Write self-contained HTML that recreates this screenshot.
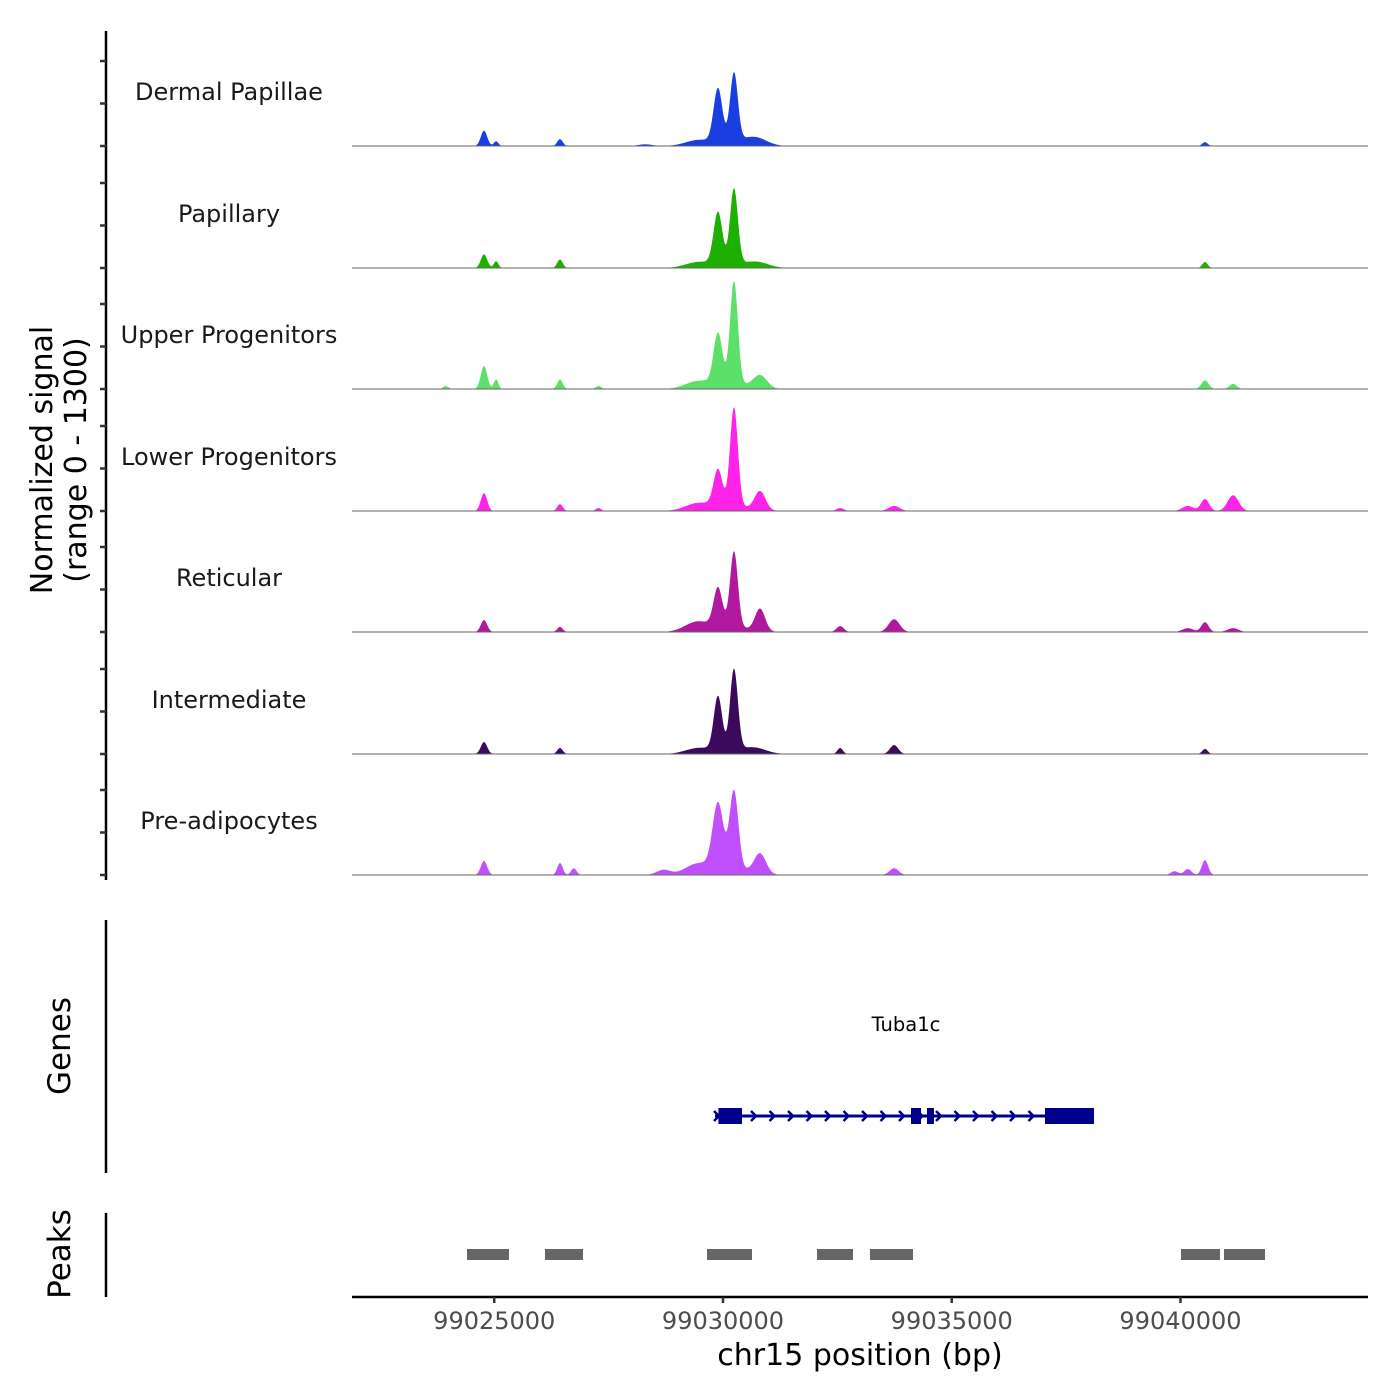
<!DOCTYPE html>
<html><head><meta charset="utf-8">
<style>
html,body{margin:0;padding:0;background:#fff;}
svg{display:block;font-family:"DejaVu Sans","Liberation Sans",sans-serif;}
</style></head>
<body>
<svg id="chart" width="1400" height="1400" viewBox="0 0 1400 1400"></svg>
<script>
// ---- data ----
const trackNames = ["Dermal Papillae","Papillary","Upper Progenitors","Lower Progenitors","Reticular","Intermediate","Pre-adipocytes"];
const trackColors = ["#1a3fe0","#1db000","#5ce06a","#ff22e8","#b0189f","#3b0a5c","#c050ff"];
// peaks per track: positions (bp), heights (signal units), widths (sigma bp)
const peakPos = [
 [99029890,99030240,99024776,99025040,99026437,99030700,99029400,99040535,99028300,99030000],
 [99029890,99030240,99024776,99025040,99026437,99030750,99029400,99040535,99030000],
 [99029890,99030240,99024776,99025040,99026437,99030810,99029400,99040535,99041150,99023940,99027280,99030000],
 [99029890,99030240,99024776,99026437,99030810,99029400,99040535,99041150,99040160,99033740,99032560,99027280,99030000],
 [99029890,99030240,99030810,99029400,99024776,99026437,99033740,99032560,99040535,99041150,99040160,99030000],
 [99029890,99030240,99024776,99026437,99030700,99029400,99033740,99032560,99040535,99030000],
 [99029890,99030240,99030810,99029400,99024776,99026437,99026740,99033740,99040535,99040160,99039870,99028700,99030000]
];
const peakHeights = [
 [620,800,180,55,80,90,45,45,20,60],
 [600,880,160,80,100,60,45,70,60],
 [580,1200,270,110,110,150,60,100,60,35,35,80],
 [410,1150,210,80,220,60,140,185,60,60,35,35,80],
 [440,880,260,90,140,60,150,70,115,45,45,80],
 [620,940,140,70,60,45,105,70,60,60],
 [740,900,235,90,165,140,80,80,175,70,45,60,110]
];
const peakWidths = [
 [95,85,70,50,60,250,250,60,150,450],
 [95,85,70,50,60,250,250,60,450],
 [95,85,70,50,60,150,250,80,80,60,60,450],
 [95,85,70,60,120,250,90,120,120,120,80,60,450],
 [95,85,110,250,70,60,120,80,80,120,120,450],
 [90,85,70,60,250,250,90,60,60,450],
 [115,95,130,250,70,60,60,100,70,80,80,150,450]
];
const yTicks = [0,500,1000];
const xTicks = [99025000,99030000,99035000,99040000];
const geneName = "Tuba1c";
const geneStart = 99029825, geneEnd = 99038109;
const exonStarts = [99029900,99034109,99034459,99037038];
const exonEnds = [99030415,99034328,99034612,99038109];
const peakRegionStarts = [99024404,99026109,99029650,99032055,99033213,99040011,99040951];
const peakRegionEnds = [99025322,99026940,99030634,99032842,99034153,99040863,99041847];

// ---- scales ----
const X0=352, X1=1368;
function xs(p){return 723+(p-99030000)*0.04575;}
const baselines=[146,268,389,511,632,754,875];
function ys(v,i){return baselines[i]-v*0.085;}

const NS="http://www.w3.org/2000/svg";
const svg=document.getElementById('chart');
function el(tag,attrs,parent){const e=document.createElementNS(NS,tag);for(const k in attrs)e.setAttribute(k,attrs[k]);(parent||svg).appendChild(e);return e;}

let a=el('line',{x1:106,y1:31,x2:106,y2:880,stroke:'#000','stroke-width':2.5});


trackNames.forEach((name,i)=>{
  yTicks.forEach(t=>{
    const tk=el('line',{x1:100,x2:106,y1:ys(t,i),y2:ys(t,i),stroke:'#333','stroke-width':2.5});
    
    
  });
  let d='M'+X0+','+baselines[i];
  for(let x=X0;x<=X1;x+=0.5){
    const p=99030000+(x-723)/0.04575;
    let v=0;
    for(let k=0;k<peakPos[i].length;k++){const z=(p-peakPos[i][k])/peakWidths[i][k];v+=peakHeights[i][k]*Math.exp(-0.5*z*z);}
    d+='L'+x+','+ys(v,i).toFixed(2);
  }
  d+='L'+X1+','+baselines[i]+'Z';
  const ar=el('path',{d:d,fill:trackColors[i]});
  
  
  const bl=el('line',{x1:X0,x2:X1,y1:baselines[i],y2:baselines[i],stroke:'#666','stroke-width':1});
  
  
  const lb=el('text',{x:229,y:baselines[i]-46,'text-anchor':'middle','font-size':24,fill:'#1a1a1a'});
  lb.textContent=name;
  
  
});
let yt=el('text',{transform:'translate(52,460) rotate(-90)','text-anchor':'middle','font-size':30,fill:'#000'});


const t1=el('tspan',{x:0,dy:0},yt);t1.textContent='Normalized signal';
const t2=el('tspan',{x:0,dy:34},yt);t2.textContent='(range 0 - 1300)';

// genes
let ga=el('line',{x1:106,y1:920,x2:106,y2:1173,stroke:'#000','stroke-width':2.5});


let gt=el('text',{transform:'translate(70,1046) rotate(-90)','text-anchor':'middle','font-size':31,fill:'#000'});
gt.textContent='Genes';


const GY=1116;
let gl=el('line',{x1:xs(geneStart),x2:xs(geneEnd),y1:GY,y2:GY,stroke:'#00008b','stroke-width':3});


for(let x=xs(geneStart)+2;x<xs(geneEnd)-5;x+=18.5){
  const ch=el('path',{d:`M${x-3},${GY-5} L${x+2},${GY} L${x-3},${GY+5}`,fill:'none',stroke:'#00008b','stroke-width':2.5});
  
  
}
exonStarts.forEach((s,k)=>{
  const r=el('rect',{x:xs(s),y:GY-8,width:xs(exonEnds[k])-xs(s),height:16,fill:'#00008b'});
  
  
});
let gn=el('text',{x:906,y:1031,'text-anchor':'middle','font-size':19.5,fill:'#000'});
gn.textContent=geneName;



// peaks
let pa=el('line',{x1:106,y1:1213,x2:106,y2:1297,stroke:'#000','stroke-width':2.5});


let pt=el('text',{transform:'translate(70,1254) rotate(-90)','text-anchor':'middle','font-size':31,fill:'#000'});
pt.textContent='Peaks';


peakRegionStarts.forEach((s,k)=>{
  const r=el('rect',{x:xs(s),y:1249,width:xs(peakRegionEnds[k])-xs(s),height:11,fill:'#666'});
  
  
});

// x axis
let xa=el('line',{x1:X0,x2:X1,y1:1297,y2:1297,stroke:'#000','stroke-width':2.5});


xTicks.forEach(t=>{
  const tk=el('line',{x1:xs(t),x2:xs(t),y1:1297,y2:1303,stroke:'#333','stroke-width':2.5});
  
  
  const tl=el('text',{x:xs(t),y:1329,'text-anchor':'middle','font-size':24,fill:'#4d4d4d'});
  tl.textContent=String(t);
  
  
});
let xt=el('text',{x:860,y:1365,'text-anchor':'middle','font-size':30,fill:'#000'});
xt.textContent='chr15 position (bp)';


</script>
</body></html>
